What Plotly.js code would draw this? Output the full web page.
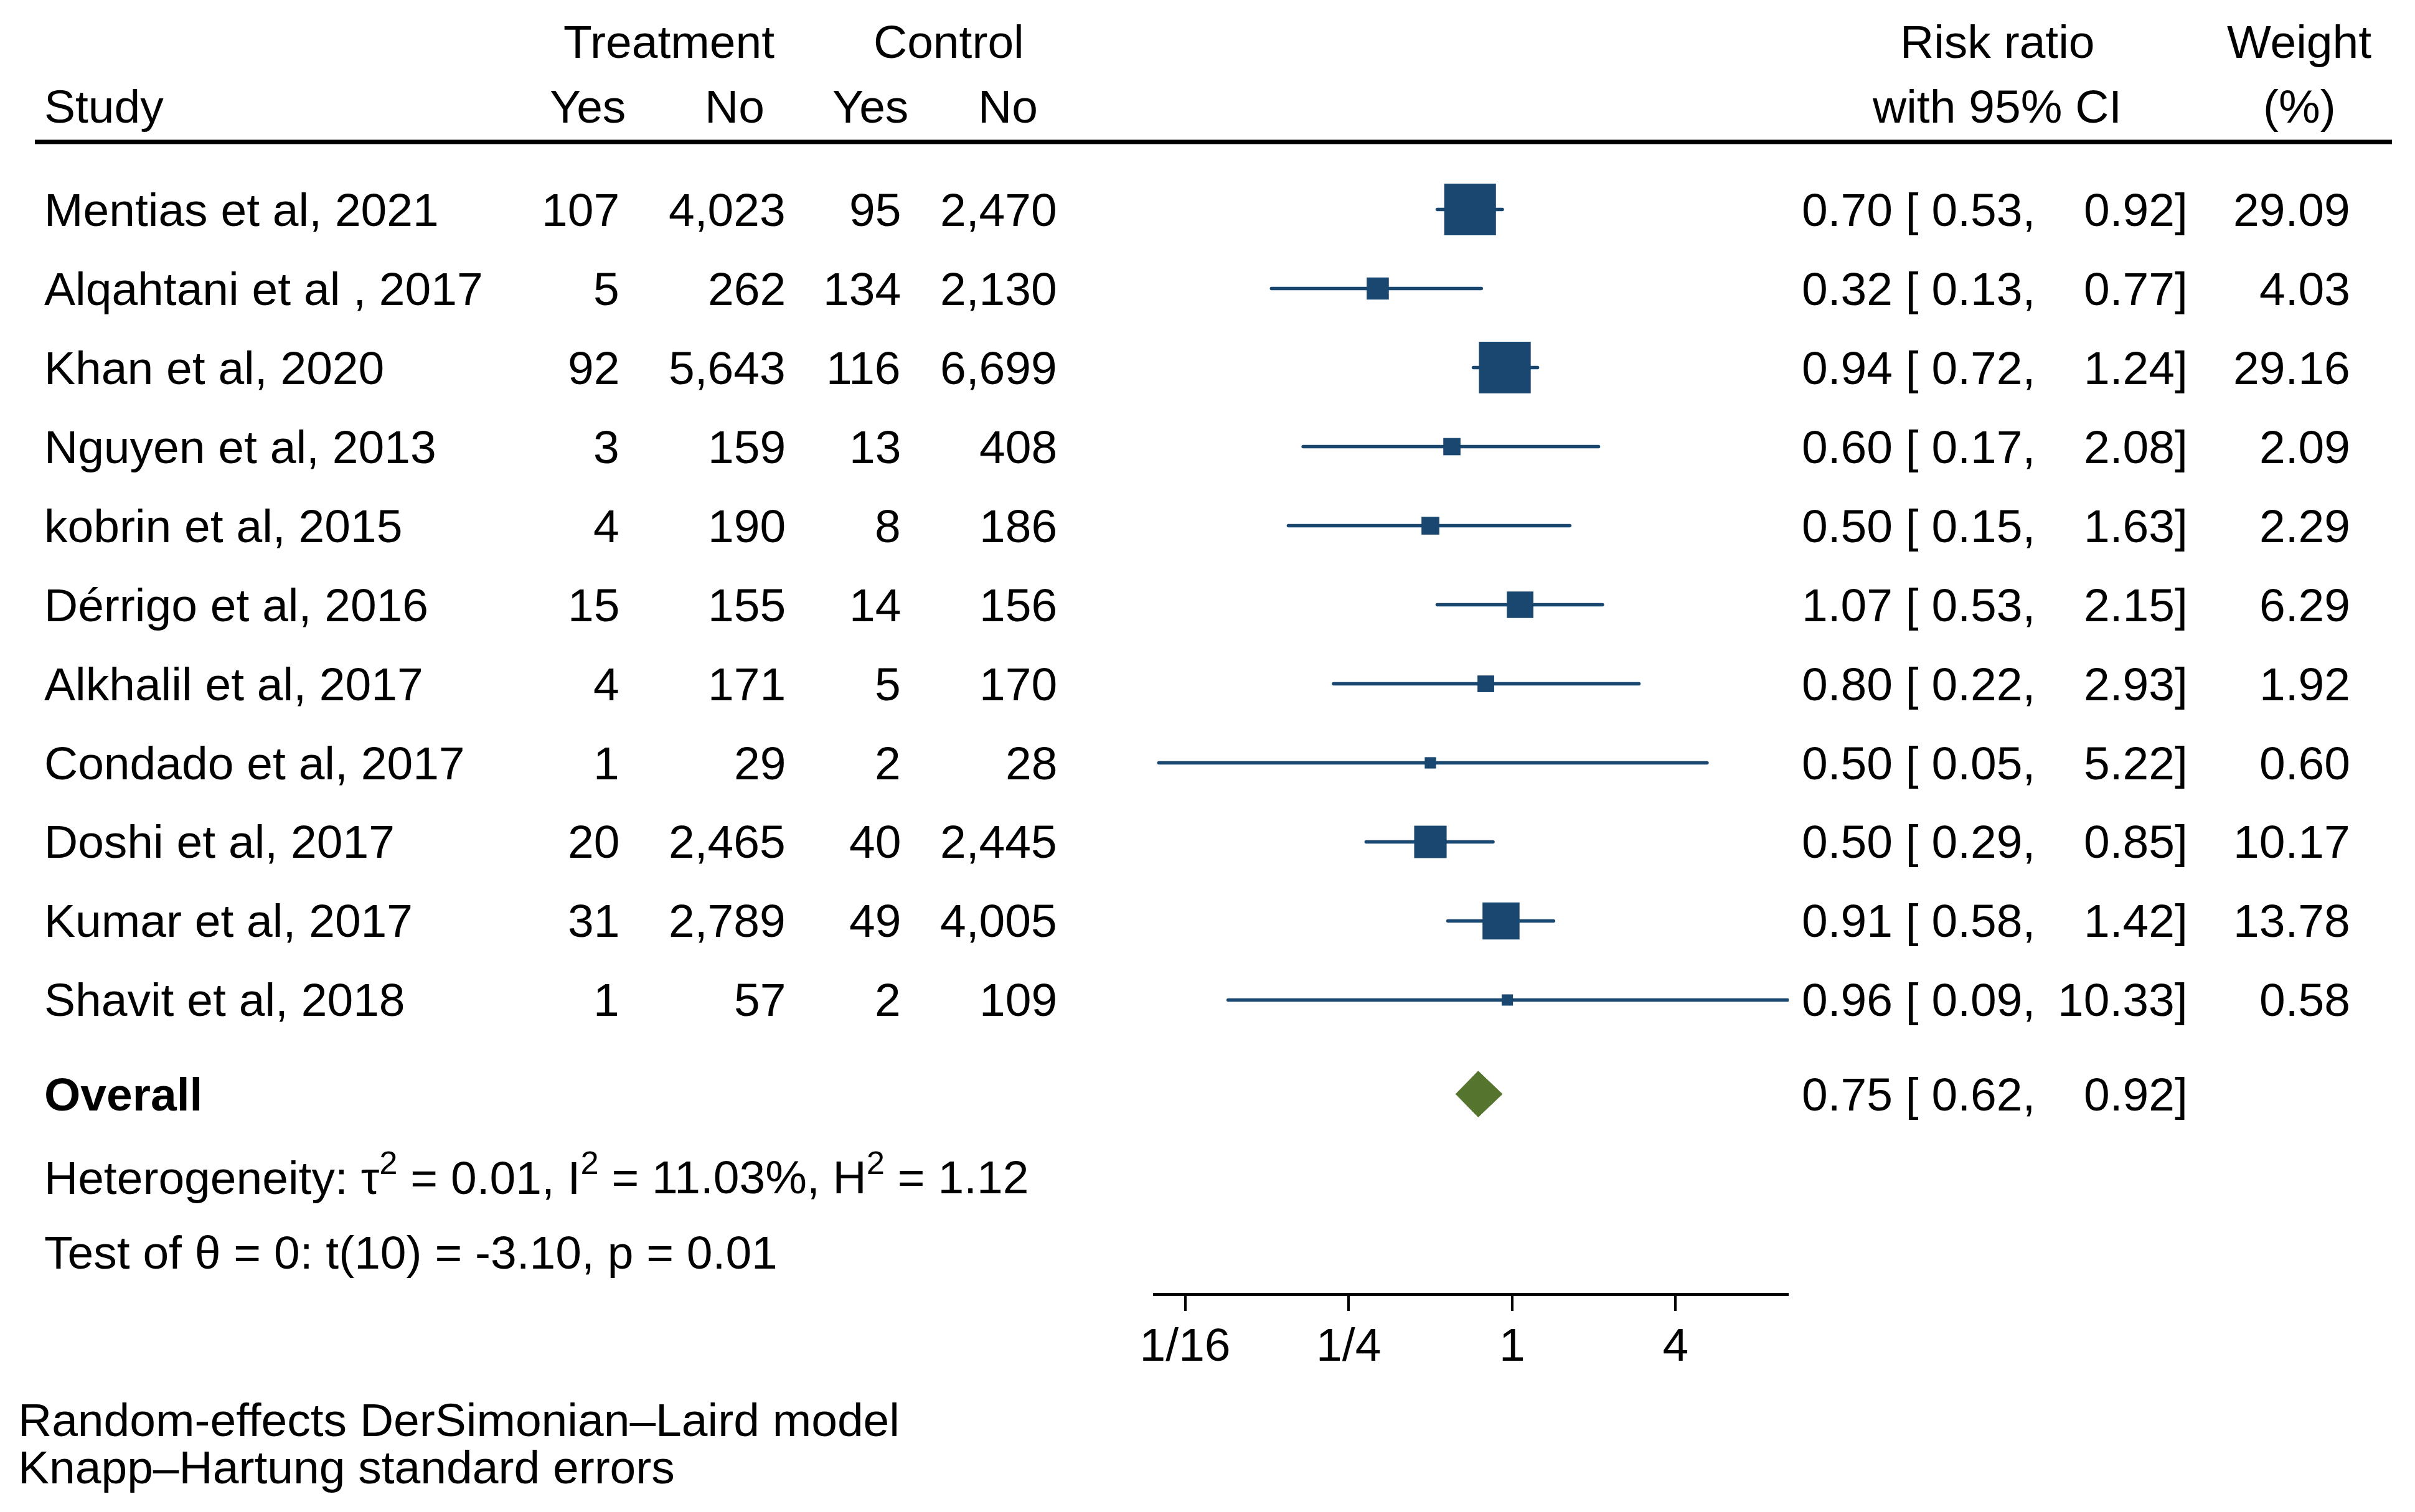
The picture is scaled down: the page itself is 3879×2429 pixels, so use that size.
<!DOCTYPE html>
<html>
<head>
<meta charset="utf-8">
<script src="https://cdn.plot.ly/plotly-3.0.1.min.js"></script>
<style>html,body{margin:0;padding:0;background:#fff;}#chart{width:3879px;height:2429px;}
path.js-line{stroke-linecap:round;}</style>
</head>
<body>
<div id="chart"></div>
<script>
// ---- Data ----
const studies = ["Mentias et al, 2021", "Alqahtani et al , 2017", "Khan et al, 2020", "Nguyen et al, 2013",
  "kobrin et al, 2015", "Dérrigo et al, 2016", "Alkhalil et al, 2017", "Condado et al, 2017",
  "Doshi et al, 2017", "Kumar et al, 2017", "Shavit et al, 2018"];
const treatYes = [107, 5, 92, 3, 4, 15, 4, 1, 20, 31, 1];
const treatNo  = [4023, 262, 5643, 159, 190, 155, 171, 29, 2465, 2789, 57];
const ctrlYes  = [95, 134, 116, 13, 8, 14, 5, 2, 40, 49, 2];
const ctrlNo   = [2470, 2130, 6699, 408, 186, 156, 170, 28, 2445, 4005, 109];
const rr       = [0.70, 0.32, 0.94, 0.60, 0.50, 1.07, 0.80, 0.50, 0.50, 0.91, 0.96];
const ciLow    = [0.53, 0.13, 0.72, 0.17, 0.15, 0.53, 0.22, 0.05, 0.29, 0.58, 0.09];
const ciHigh   = [0.92, 0.77, 1.24, 2.08, 1.63, 2.15, 2.93, 5.22, 0.85, 1.42, 10.33];
const weights  = [29.09, 4.03, 29.16, 2.09, 2.29, 6.29, 1.92, 0.60, 10.17, 13.78, 0.58];
const overallRR = 0.75, overallLow = 0.62, overallHigh = 0.92;
const tickVals = [0.0625, 0.25, 1, 4];
const tickText = ["1/16", "1/4", "1", "4"];
const hetText = "Heterogeneity: τ<sup>2</sup> = 0.01, I<sup>2</sup> = 11.03%, H<sup>2</sup> = 1.12";
const testText = "Test of θ = 0: t(10) = -3.10, p = 0.01";
const noteLines = ["Random-effects DerSimonian–Laird model", "Knapp–Hartung standard errors"];

// ---- Layout constants ----
const W = 3879, H = 2429;
const NAVY = "#1a476f", GREEN = "#55752f";
const FONT = "Liberation Sans, Arial, Helvetica, sans-serif";
const FS = 75;
const px = v => v / W;
const py = v => 1 - v / H;
const rows = studies.map((_, i) => i);
const overallRow = 11.19, hetRow = 12.20, testRow = 13.19;
const fmt = n => n.toLocaleString("en-US");
const f2 = n => n.toFixed(2);

// ---- Traces ----
const ciX = [], ciY = [];
rows.forEach(i => { ciX.push(ciLow[i], ciHigh[i], null); ciY.push(i, i, null); });
const ciTrace = { type: "scatter", mode: "lines", x: ciX, y: ciY,
  line: { color: NAVY, width: 5.5 }, hoverinfo: "skip" };
const sqTrace = { type: "scatter", mode: "markers", x: rr, y: rows, cliponaxis: false,
  marker: { symbol: "square", color: NAVY, opacity: 1,
    size: weights.map(w => 7.4 + 14.03 * Math.sqrt(w)), line: { width: 0 } },
  hoverinfo: "skip" };
const dh = 0.29;
const diamond = { type: "scatter", mode: "lines", fill: "toself", fillcolor: GREEN,
  x: [overallLow, overallRR, overallHigh, overallRR, overallLow],
  y: [overallRow, overallRow - dh, overallRow, overallRow + dh, overallRow],
  line: { color: GREEN, width: 1 }, hoverinfo: "skip" };

// ---- Annotations ----
const ann = [];
const add = (text, x, y, xanchor, yref) => ann.push({
  text, x: px(x), xref: "paper", y, yref: yref || "y", xanchor, yanchor: "middle",
  showarrow: false, font: { family: FONT, size: FS, color: "#000" }, borderpad: 0 });

// headers
add("Treatment", 1074, -2.12, "center");
add("Control", 1524, -2.12, "center");
add("Risk ratio", 3208, -2.12, "center");
add("Weight", 3693, -2.12, "center");
add("Study", 70, -1.30, "left");
add("Yes", 944, -1.30, "center");
add("No", 1180, -1.30, "center");
add("Yes", 1398, -1.30, "center");
add("No", 1619, -1.30, "center");
add("with 95% CI", 3207, -1.30, "center");
add("(%)", 3693, -1.30, "center");

rows.forEach(i => {
  add(studies[i], 70, i, "left");
  add(fmt(treatYes[i]), 996, i, "right");
  add(fmt(treatNo[i]), 1263, i, "right");
  add(fmt(ctrlYes[i]), 1448, i, "right");
  add(fmt(ctrlNo[i]), 1699, i, "right");
  add(f2(rr[i]) + " [ " + f2(ciLow[i]) + ",", 2893, i, "left");
  add(f2(ciHigh[i]) + "]", 3515, i, "right");
  add(f2(weights[i]), 3776, i, "right");
});
add("<b>Overall</b>", 70, overallRow, "left");
add(f2(overallRR) + " [ " + f2(overallLow) + ",", 2893, overallRow, "left");
add(f2(overallHigh) + "]", 3515, overallRow, "right");
add(hetText, 70, hetRow, "left");
add(testText, 70, testRow, "left");
add(noteLines[0], 28, py(2281), "left", "paper");
add(noteLines[1], 28, py(2357), "left", "paper");

const layout = {
  width: W, height: H, margin: { l: 0, r: 0, t: 0, b: 0, pad: 0 },
  paper_bgcolor: "#fff", plot_bgcolor: "rgba(0,0,0,0)", showlegend: false,
  font: { family: FONT, size: FS, color: "#000" },
  xaxis: { type: "log", domain: [1852 / W, 2873 / W],
    range: [Math.log10(0.0476), Math.log10(10.43)],
    tickmode: "array", tickvals: tickVals, ticktext: tickText,
    ticks: "outside", ticklen: 24, tickwidth: 4, tickcolor: "#000",
    ticklabelstandoff: -10,
    showline: true, linewidth: 5, linecolor: "#000",
    showgrid: false, zeroline: false, tickfont: { family: FONT, size: FS, color: "#000" },
    fixedrange: true },
  yaxis: { domain: [(H - 2077) / H, 1], range: [13.705, -2.65], visible: false,
    showgrid: false, zeroline: false, fixedrange: true },
  shapes: [{ type: "line", xref: "paper", yref: "paper", x0: px(56), x1: px(3842),
    y0: py(228), y1: py(228), line: { color: "#000", width: 7 } }],
  annotations: ann
};

Plotly.newPlot("chart", [ciTrace, diamond, sqTrace], layout, { displayModeBar: false, staticPlot: true });
</script>
</body>
</html>
